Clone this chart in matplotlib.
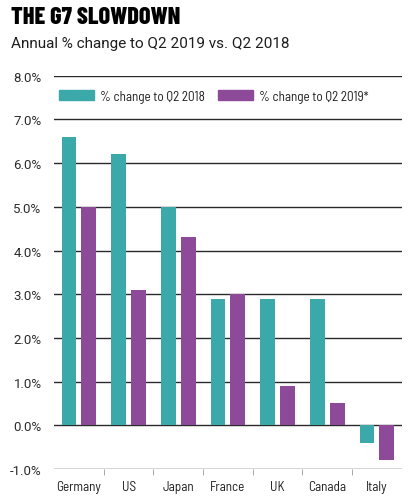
import numpy as np
import matplotlib
matplotlib.use("Agg")
import matplotlib.pyplot as plt
from matplotlib.patches import Patch

# ---- data ----
countries = ["Germany", "US", "Japan", "France", "UK", "Canada", "Italy"]
chg_2018 = [6.6, 6.2, 5.0, 2.9, 2.9, 2.9, -0.4]
chg_2019 = [5.0, 3.1, 4.3, 3.0, 0.9, 0.5, -0.8]
yticks = [-1, 0, 1, 2, 3, 4, 5, 6, 7, 8]

teal = "#3ba8aa"
purple = "#8d4a98"
narrow = "Barlow Semi Condensed"

fig = plt.figure(figsize=(4.1, 5.02), dpi=100)
ax = fig.add_axes([0.132, 0.064, 0.848, 0.783])

x = np.arange(len(countries))
w = 0.30
ax.bar(x - 0.2, chg_2018, width=w, color=teal, zorder=3)
ax.bar(x + 0.2, chg_2019, width=w, color=purple, zorder=3)

ax.set_xlim(-0.5, 6.5)
ax.set_ylim(-1, 8)
ax.set_yticks(yticks)
ax.set_yticklabels([f"{v:.1f}%" for v in yticks], fontsize=9.5, color="#2b2b2b",
                   family="Roboto")
for v in yticks:
    ax.axhline(v, color="#2a2a2a", lw=1.0, zorder=1)

ax.set_xticks(x)
ax.set_xticklabels(countries, fontsize=9.5, color="#1e1e1e", family=narrow)
ax.tick_params(axis="x", length=0, pad=8)
ax.tick_params(axis="y", length=0, pad=9)
ax.set_xticks(x[:-1] + 0.5, minor=True)
ax.tick_params(axis="x", which="minor", length=4, color="#999999", direction="out")

for s in ax.spines.values():
    s.set_visible(False)

handles = [Patch(color=teal, label="% change to Q2 2018"),
           Patch(color=purple, label="% change to Q2 2019*")]
ax.legend(handles=handles, loc="center left", bbox_to_anchor=(0.0, 0.948), ncol=2,
          frameon=False, prop={"family": narrow, "size": 9.5},
          handlelength=2.6, handleheight=0.8,
          handletextpad=0.5, columnspacing=1.0, borderaxespad=0,
          labelcolor="#1e1e1e")

fig.text(0.028, 0.965, "THE G7 SLOWDOWN", fontsize=17.5, fontweight="heavy",
         family="Barlow Condensed", va="center", ha="left", color="black")
fig.text(0.028, 0.913, "Annual % change to Q2 2019 vs. Q2 2018", fontsize=11,
         family="Roboto", va="center", ha="left", color="#1e1e1e")

fig.savefig("out.png", dpi=100)
